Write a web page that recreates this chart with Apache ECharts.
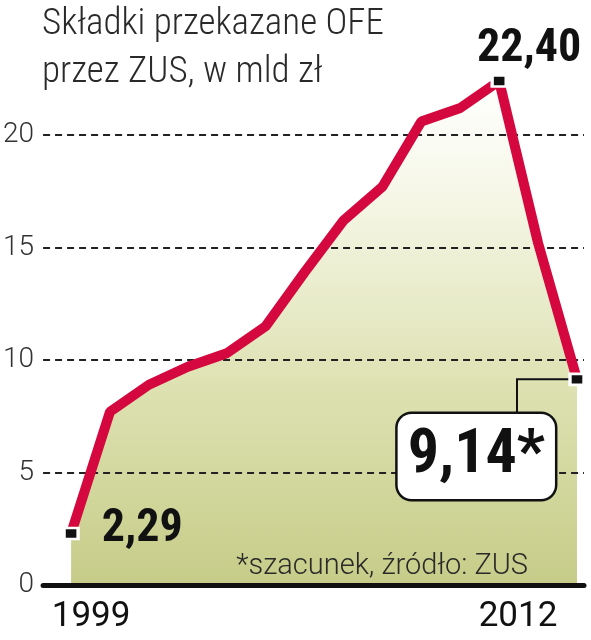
<!DOCTYPE html>
<html><head><meta charset="utf-8">
<script src="https://cdn.jsdelivr.net/npm/echarts@6/dist/echarts.min.js"></script>
<style>html,body{margin:0;padding:0;background:#fff}#c{width:591px;height:640px}</style>
</head><body><div id="c"></div>
<script>
// ---- data ----
const titleLines = ['Składki przekazane OFE', 'przez ZUS, w mld zł'];
const years = [1999, 2000, 2001, 2002, 2003, 2004, 2005, 2006, 2007, 2008, 2009, 2010, 2011, 2012];
const values = [2.29, 7.7, 8.9, 9.7, 10.3, 11.5, 13.9, 16.2, 17.7, 20.6, 21.2, 22.40, 15.2, 9.14];
const yTicks = [0, 5, 10, 15, 20];
const xTickLabels = [1999, 2012];
const valueLabels = { 1999: '2,29', 2010: '22,40', 2012: '9,14*' };
const footnote = '*szacunek, źródło: ZUS';

// ---- styles ----
const COND = '"Roboto Condensed", "Open Sans Condensed", sans-serif';
const REG = 'Roboto, "Liberation Sans", sans-serif';
const RED = '#d4083e';

const markerStyle = { color: '#111', borderColor: '#fff', borderWidth: 3 };
const bigLabel = { fontFamily: COND, fontWeight: 'bold', color: '#111' };

const lineData = years.map((y, i) => {
  const item = { value: [y, values[i]], symbol: 'none' };
  if (valueLabels[y] !== undefined) {
    item.symbol = 'rect';
    item.symbolSize = [14, 11];
    item.itemStyle = markerStyle;
    if (i === 0) {
      item.label = Object.assign({ show: true, formatter: valueLabels[y], position: 'right', distance: 22, offset: [0, -4], fontSize: 46 }, bigLabel);
    } else if (i === years.length - 1) {
      item.label = Object.assign({ show: true, formatter: valueLabels[y], position: [-92, 84], align: 'center', verticalAlign: 'middle',
        fontSize: 62, lineHeight: 64, backgroundColor: '#fff', borderColor: '#111', borderWidth: 2.5, borderRadius: 14, padding: [13, 10, 8, 10] }, bigLabel);
    } else {
      item.label = Object.assign({ show: true, formatter: valueLabels[y], position: 'top', distance: 2, offset: [30, 0], fontSize: 46 }, bigLabel);
    }
  }
  return item;
});
const areaData = years.map((y, i) => [y, values[i]]);

const chart = echarts.init(document.getElementById('c'), null, { renderer: 'canvas' });
chart.setOption({
  animation: false,
  backgroundColor: '#fff',
  title: [
    { text: titleLines.join('\n'), left: 37, top: -4,
      textStyle: { fontFamily: COND, fontSize: 37, lineHeight: 48, fontWeight: 300, color: '#2a2a2a' } },
    { text: footnote, right: 58, top: 547,
      textStyle: { fontFamily: REG, fontSize: 29, fontWeight: 300, color: '#2a2a2a' } }
  ],
  grid: { left: 42, top: 22.5, width: 542, height: 562.5, containLabel: false },
  xAxis: {
    type: 'value', min: 1998.28, max: 2012.18, z: 3,
    axisLine: { show: true, lineStyle: { color: '#111', width: 5 } },
    axisTick: { show: false },
    splitLine: { show: false },
    axisLabel: {
      customValues: xTickLabels, margin: 15, fontSize: 35, color: '#111', fontFamily: REG,
      formatter: v => (v === xTickLabels[0] ? '{a|' + v + '}' : '{b|' + v + '}'),
      rich: {
        a: { fontSize: 35, color: '#111', fontFamily: REG, padding: [0, 0, 0, 40] },
        b: { fontSize: 35, color: '#111', fontFamily: REG, padding: [0, 118, 0, 0] }
      }
    }
  },
  yAxis: {
    type: 'value', min: 0, max: 25, interval: 5, z: 3,
    axisLine: { show: false }, axisTick: { show: false },
    axisLabel: { fontSize: 28, fontWeight: 300, color: '#333', margin: 9, fontFamily: REG, showMaxLabel: false,
      formatter: v => (yTicks.includes(v) ? String(v) : '') },
    splitLine: { show: true, showMinLine: false, showMaxLine: false,
      lineStyle: { color: '#222', width: 2, type: [7, 5] } }
  },
  series: [
    { type: 'line', data: areaData, symbol: 'none', z: 1, silent: true,
      lineStyle: { width: 0 },
      areaStyle: { opacity: 1, color: new echarts.graphic.LinearGradient(0, 0, 0, 1, [
        { offset: 0, color: '#ffffff' }, { offset: 0.2, color: '#f7f8ea' },
        { offset: 0.6, color: '#dee2b3' }, { offset: 1, color: '#c6cc88' }]) } },
    { type: 'line', data: lineData, symbol: 'rect', showAllSymbol: true, z: 5,
      lineStyle: { color: RED, width: 10 }, itemStyle: { color: RED } }
  ]
});
const p = chart.convertToPixel({ gridIndex: 0 }, [years[years.length - 1], values[values.length - 1]]);
chart.setOption({
  graphic: [{ type: 'polyline', z: 4, silent: true,
    shape: { points: [[p[0] - 60, p[1] + 34], [p[0] - 60, p[1]], [p[0] - 7, p[1]]] },
    style: { stroke: '#111', lineWidth: 2, fill: null } }]
});
</script>
</body></html>
